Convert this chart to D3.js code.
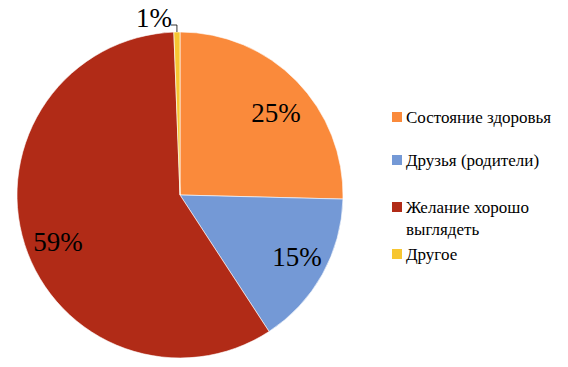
<!DOCTYPE html>
<html><head><meta charset="utf-8">
<script src="https://cdn.jsdelivr.net/npm/d3@7"></script>
<style>body{margin:0;background:#fff}svg{display:block}
text{font-family:"Liberation Serif","Times New Roman",Tinos,"DejaVu Serif",serif}</style>
</head><body>
<script>
const categories = ["Состояние здоровья", "Друзья (родители)", "Желание хорошо выглядеть", "Другое"];
const legendLines = [["Состояние здоровья"], ["Друзья (родители)"], ["Желание хорошо", "выглядеть"], ["Другое"]];
const values = [25.4, 15.4, 58.6, 0.6];
const labels = ["25%", "15%", "59%", "1%"];
const colors = ["#fa8a3b", "#7499d6", "#b12b17", "#f7c631"];

const W = 568, H = 367;
const svg = d3.select("body").append("svg").attr("width", W).attr("height", H);
const cx = 180, cy = 195, R = 163;
const pie = d3.pie().sort(null).value(d => d)(values);
const arc = d3.arc().innerRadius(0).outerRadius(R);
const g = svg.append("g").attr("transform", `translate(${cx},${cy})`);
g.selectAll("path").data(pie).join("path")
  .attr("d", arc).attr("fill", (d, i) => colors[i])
  .attr("stroke", "#fff").attr("stroke-width", 0.6);

const labelPos = [[276, 113], [297, 257], [58, 242], [154, 18]];
labels.forEach((t, i) => {
  svg.append("text").attr("x", labelPos[i][0]).attr("y", labelPos[i][1])
    .attr("text-anchor", "middle").attr("dominant-baseline", "central")
    .attr("font-size", 27).attr("fill", "#000").text(t);
});
// leader line for small slice
const mid = (pie[3].startAngle + pie[3].endAngle) / 2;
const px = cx + R * Math.sin(mid), py = cy - R * Math.cos(mid);
svg.append("path").attr("d", `M171,25 H${px} V${py}`).attr("fill", "none").attr("stroke", "#000").attr("stroke-width", 0.8);

// legend
const ly = [117, 160, 207, 254];
const lg = svg.append("g");
legendLines.forEach((lines, i) => {
  lg.append("rect").attr("x", 392).attr("y", ly[i] - 5).attr("width", 10).attr("height", 10).attr("fill", colors[i]);
  lines.forEach((ln, j) => {
    lg.append("text").attr("x", 406).attr("y", ly[i] + j * 22).attr("dominant-baseline", "central")
      .attr("font-size", 17).attr("fill", "#000").text(ln);
  });
});
</script>
</body></html>
